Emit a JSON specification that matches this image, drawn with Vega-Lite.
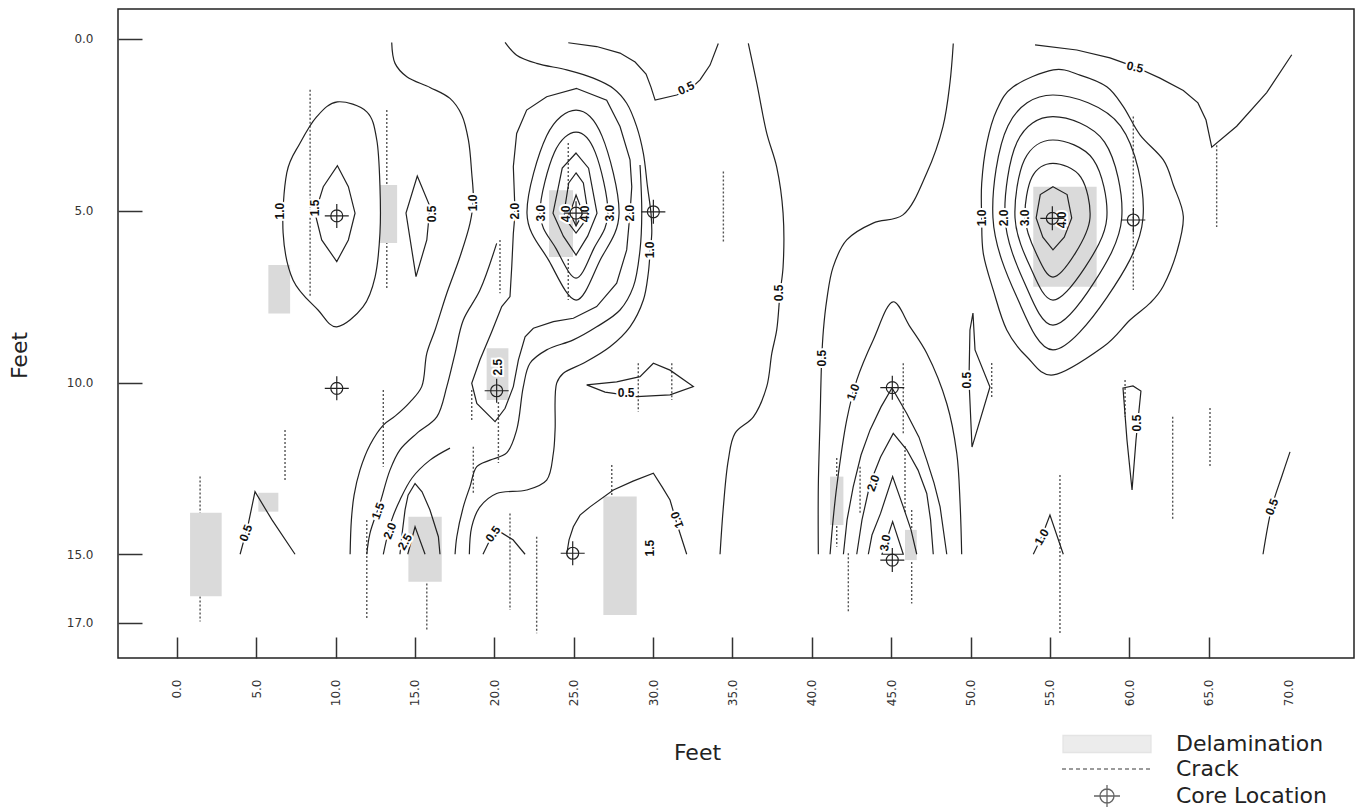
{
"$schema": "https://vega.github.io/schema/vega-lite/v6.json",
"width": 1236, "height": 649,
"autosize": {"type": "none"},
"padding": {"left": 118, "top": 9, "right": 11, "bottom": 151},
"background": "white",
"config": {"view": {"stroke": "#222", "strokeWidth": 1.5}, "axis": {"domain": false, "grid": false}},
"datasets": {
"sm": [
{"g":"p1","x":13.54,"y":0.1},{"g":"p1","x":13.75,"y":0.71},{"g":"p1","x":14.49,"y":1.10},{"g":"p1","x":15.95,"y":1.41},{"g":"p1","x":17.21,"y":1.73},{"g":"p1","x":17.95,"y":2.21},{"g":"p1","x":18.37,"y":2.94},{"g":"p1","x":18.58,"y":3.91},{"g":"p1","x":18.68,"y":4.69},{"g":"p1","x":18.47,"y":5.37},{"g":"p1","x":17.84,"y":6.34},{"g":"p1","x":17.01,"y":7.40},{"g":"p1","x":16.27,"y":8.47},{"g":"p1","x":15.75,"y":9.15},{"g":"p1","x":15.43,"y":10.12},{"g":"p1","x":14.69,"y":10.57},{"g":"p1","x":13.75,"y":10.98},{"g":"p1","x":13.01,"y":11.24},{"g":"p1","x":12.17,"y":11.82},{"g":"p1","x":11.54,"y":12.55},{"g":"p1","x":11.17,"y":13.28},{"g":"p1","x":11.00,"y":14.00},{"g":"p1","x":10.92,"y":15.0},
{"g":"p2","x":11.97,"y":15.0},{"g":"p2","x":12.17,"y":14.39},{"g":"p2","x":12.80,"y":13.52},{"g":"p2","x":13.43,"y":12.55},{"g":"p2","x":14.06,"y":11.96},{"g":"p2","x":15.12,"y":11.48},{"g":"p2","x":16.38,"y":11.00},{"g":"p2","x":17.01,"y":10.12},{"g":"p2","x":17.53,"y":9.15},{"g":"p2","x":18.05,"y":8.18},{"g":"p2","x":19.10,"y":7.31},{"g":"p2","x":20.15,"y":5.95},
{"g":"p3","x":13.01,"y":15.0},{"g":"p3","x":13.54,"y":14.00},{"g":"p3","x":14.06,"y":13.42},{"g":"p3","x":14.82,"y":12.78},{"g":"p3","x":15.95,"y":12.26},{"g":"p3","x":17.21,"y":11.91},
{"g":"q1","x":20.68,"y":0.1},{"g":"q1","x":21.41,"y":0.47},{"g":"q1","x":22.67,"y":0.71},{"g":"q1","x":24.56,"y":0.90},{"g":"q1","x":26.24,"y":1.14},{"g":"q1","x":27.50,"y":1.44},{"g":"q1","x":28.34,"y":1.87},{"g":"q1","x":28.97,"y":2.55},{"g":"q1","x":29.39,"y":3.33},{"g":"q1","x":29.65,"y":4.30},{"g":"q1","x":29.87,"y":5.07},{"g":"q1","x":29.92,"y":5.65},{"g":"q1","x":29.81,"y":6.23},{"g":"q1","x":29.70,"y":6.82},{"g":"q1","x":29.39,"y":7.60},{"g":"q1","x":28.55,"y":8.38},{"g":"q1","x":27.29,"y":8.96},{"g":"q1","x":25.61,"y":9.44},{"g":"q1","x":24.35,"y":9.73},{"g":"q1","x":23.93,"y":10.02},{"g":"q1","x":23.83,"y":11.38},{"g":"q1","x":23.72,"y":12.06},{"g":"q1","x":23.30,"y":12.84},{"g":"q1","x":22.04,"y":13.13},{"g":"q1","x":20.15,"y":13.23},{"g":"q1","x":19.10,"y":13.62},{"g":"q1","x":18.58,"y":14.20},{"g":"q1","x":18.43,"y":15.0},
{"g":"r1","x":29.18,"y":3.67},{"g":"r1","x":29.29,"y":5.07},{"g":"r1","x":29.18,"y":6.14},{"g":"r1","x":28.76,"y":7.21},{"g":"r1","x":27.92,"y":7.89},{"g":"r1","x":26.45,"y":8.38},{"g":"r1","x":24.98,"y":8.76},{"g":"r1","x":23.30,"y":9.05},{"g":"r1","x":22.25,"y":9.44},{"g":"r1","x":21.83,"y":10.12},{"g":"r1","x":21.41,"y":11.38},{"g":"r1","x":20.78,"y":12.05},{"g":"r1","x":19.73,"y":12.26},{"g":"r1","x":18.90,"y":12.45},{"g":"r1","x":18.47,"y":13.03},{"g":"r1","x":18.05,"y":13.62},{"g":"r1","x":17.64,"y":14.49},{"g":"r1","x":17.53,"y":15.0},
{"g":"a1","x":36.00,"y":0.13},{"g":"a1","x":36.53,"y":1.28},{"g":"a1","x":37.16,"y":2.74},{"g":"a1","x":37.79,"y":3.73},{"g":"a1","x":38.19,"y":5.07},{"g":"a1","x":38.19,"y":6.64},{"g":"a1","x":38.00,"y":7.39},{"g":"a1","x":37.79,"y":8.47},{"g":"a1","x":37.48,"y":9.15},{"g":"a1","x":37.16,"y":10.12},{"g":"a1","x":36.32,"y":11.00},{"g":"a1","x":35.16,"y":11.48},{"g":"a1","x":34.74,"y":12.26},{"g":"a1","x":34.43,"y":13.62},{"g":"a1","x":34.22,"y":15.0},
{"g":"b1","x":48.91,"y":0.13},{"g":"b1","x":48.70,"y":1.28},{"g":"b1","x":48.26,"y":2.55},{"g":"b1","x":47.24,"y":3.90},{"g":"b1","x":45.74,"y":5.12},{"g":"b1","x":43.86,"y":5.36},{"g":"b1","x":42.20,"y":5.85},{"g":"b1","x":41.34,"y":6.64},{"g":"b1","x":40.94,"y":7.60},{"g":"b1","x":40.73,"y":8.47},{"g":"b1","x":40.62,"y":9.34},{"g":"b1","x":40.52,"y":11.09},{"g":"b1","x":40.41,"y":13.03},{"g":"b1","x":40.41,"y":15.0},
{"g":"h1","x":41.15,"y":15.0},{"g":"h1","x":41.34,"y":14.00},{"g":"h1","x":41.57,"y":13.03},{"g":"h1","x":42.20,"y":11.09},{"g":"h1","x":42.83,"y":9.93},{"g":"h1","x":43.87,"y":8.76},{"g":"h1","x":45.13,"y":7.65},{"g":"h1","x":46.19,"y":8.38},{"g":"h1","x":47.24,"y":9.15},{"g":"h1","x":48.50,"y":10.61},{"g":"h1","x":49.13,"y":12.06},{"g":"h1","x":49.34,"y":13.52},{"g":"h1","x":49.44,"y":15.0},
{"g":"w1","x":70.12,"y":12.02},{"g":"w1","x":69.61,"y":12.72},{"g":"w1","x":68.98,"y":13.62},{"g":"w1","x":68.42,"y":15.0}
],
"sc": [
{"g":"o1","x":10.12,"y":1.83},{"g":"o1","x":11.97,"y":2.12},{"g":"o1","x":12.60,"y":2.94},{"g":"o1","x":12.80,"y":4.30},{"g":"o1","x":12.80,"y":5.65},{"g":"o1","x":12.49,"y":6.93},{"g":"o1","x":11.73,"y":7.80},{"g":"o1","x":10.08,"y":8.38},{"g":"o1","x":8.90,"y":7.89},{"g":"o1","x":7.33,"y":7.02},{"g":"o1","x":6.70,"y":5.65},{"g":"o1","x":6.93,"y":3.90},{"g":"o1","x":7.77,"y":3.03},{"g":"o1","x":8.82,"y":2.26},
{"g":"m1","x":55.21,"y":0.90},{"g":"m1","x":56.89,"y":1.05},{"g":"m1","x":58.58,"y":1.39},{"g":"m1","x":59.62,"y":1.97},{"g":"m1","x":60.67,"y":2.79},{"g":"m1","x":62.14,"y":3.52},{"g":"m1","x":62.77,"y":4.25},{"g":"m1","x":63.40,"y":5.17},{"g":"m1","x":62.98,"y":6.22},{"g":"m1","x":62.14,"y":7.19},{"g":"m1","x":61.30,"y":7.69},{"g":"m1","x":60.04,"y":8.18},{"g":"m1","x":58.36,"y":8.96},{"g":"m1","x":55.21,"y":9.78},{"g":"m1","x":53.54,"y":9.25},{"g":"m1","x":52.28,"y":8.47},{"g":"m1","x":51.43,"y":7.31},{"g":"m1","x":50.80,"y":6.24},{"g":"m1","x":50.70,"y":5.21},{"g":"m1","x":50.70,"y":4.20},{"g":"m1","x":51.02,"y":3.04},{"g":"m1","x":51.65,"y":2.07},{"g":"m1","x":52.69,"y":1.39},
{"g":"e25","x":25.15,"y":2.07},{"g":"e25","x":26.78,"y":2.82},{"g":"e25","x":27.86,"y":5.07},{"g":"e25","x":26.64,"y":6.46},{"g":"e25","x":25.15,"y":7.60},{"g":"e25","x":23.45,"y":6.46},{"g":"e25","x":22.06,"y":5.07},{"g":"e25","x":23.30,"y":2.82},
{"g":"e30","x":25.15,"y":2.71},{"g":"e30","x":26.36,"y":3.30},{"g":"e30","x":27.16,"y":5.07},{"g":"e30","x":26.26,"y":6.11},{"g":"e30","x":25.15,"y":6.96},{"g":"e30","x":23.90,"y":6.11},{"g":"e30","x":22.88,"y":5.07},{"g":"e30","x":23.79,"y":3.30},
{"g":"f15","x":55.19,"y":1.63},{"g":"f15","x":59.44,"y":2.53},{"g":"f15","x":60.86,"y":5.21},{"g":"f15","x":58.59,"y":7.52},{"g":"f15","x":55.19,"y":9.05},{"g":"f15","x":52.92,"y":7.52},{"g":"f15","x":51.41,"y":5.21},{"g":"f15","x":52.35,"y":2.53},
{"g":"f20","x":55.19,"y":2.26},{"g":"f20","x":58.44,"y":3.00},{"g":"f20","x":59.52,"y":5.21},{"g":"f20","x":57.79,"y":7.08},{"g":"f20","x":55.19,"y":8.33},{"g":"f20","x":53.38,"y":7.08},{"g":"f20","x":52.17,"y":5.21},{"g":"f20","x":52.93,"y":3.00},
{"g":"f25","x":55.19,"y":2.94},{"g":"f25","x":57.73,"y":3.51},{"g":"f25","x":58.58,"y":5.21},{"g":"f25","x":57.22,"y":6.64},{"g":"f25","x":55.19,"y":7.60},{"g":"f25","x":53.76,"y":6.64},{"g":"f25","x":52.80,"y":5.21},{"g":"f25","x":53.40,"y":3.51},
{"g":"f30","x":55.19,"y":3.62},{"g":"f30","x":56.94,"y":4.02},{"g":"f30","x":57.52,"y":5.21},{"g":"f30","x":56.59,"y":6.24},{"g":"f30","x":55.19,"y":6.93},{"g":"f30","x":54.13,"y":6.24},{"g":"f30","x":53.43,"y":5.21},{"g":"f30","x":53.87,"y":4.02}
],
"ln": [
{"g":"v1","x":3.99,"y":15.0},{"g":"v1","x":4.49,"y":14.15},{"g":"v1","x":4.93,"y":13.18},{"g":"v1","x":6.00,"y":14.00},{"g":"v1","x":7.45,"y":15.0},
{"g":"u1","x":24.66,"y":0.11},{"g":"u1","x":26.45,"y":0.22},{"g":"u1","x":27.92,"y":0.41},{"g":"u1","x":28.87,"y":0.67},{"g":"u1","x":29.56,"y":1.02},{"g":"u1","x":29.87,"y":1.40},{"g":"u1","x":30.13,"y":1.78},{"g":"u1","x":31.49,"y":1.63},{"g":"u1","x":32.33,"y":1.46},{"g":"u1","x":32.96,"y":1.19},{"g":"u1","x":33.59,"y":0.76},{"g":"u1","x":34.11,"y":0.13},
{"g":"c1","x":54.06,"y":0.17},{"g":"c1","x":56.69,"y":0.32},{"g":"c1","x":58.78,"y":0.55},{"g":"c1","x":60.36,"y":0.81},{"g":"c1","x":61.93,"y":1.14},{"g":"c1","x":63.40,"y":1.50},{"g":"c1","x":64.32,"y":1.86},{"g":"c1","x":64.83,"y":2.36},{"g":"c1","x":65.19,"y":3.15},{"g":"c1","x":66.76,"y":2.54},{"g":"c1","x":68.65,"y":1.56},{"g":"c1","x":70.23,"y":0.46},
{"g":"h2","x":41.99,"y":15.0},{"g":"h2","x":42.22,"y":14.00},{"g":"h2","x":42.61,"y":13.03},{"g":"h2","x":43.10,"y":12.11},{"g":"h2","x":43.67,"y":11.38},{"g":"h2","x":44.36,"y":10.71},{"g":"h2","x":45.05,"y":10.16},{"g":"h2","x":45.98,"y":10.90},{"g":"h2","x":46.75,"y":11.59},{"g":"h2","x":47.24,"y":12.26},{"g":"h2","x":47.70,"y":12.93},{"g":"h2","x":48.08,"y":13.62},{"g":"h2","x":48.50,"y":15.0},
{"g":"h3","x":42.83,"y":15.0},{"g":"h3","x":43.16,"y":14.00},{"g":"h3","x":43.67,"y":12.94},{"g":"h3","x":44.33,"y":12.17},{"g":"h3","x":45.13,"y":11.48},{"g":"h3","x":45.98,"y":11.96},{"g":"h3","x":46.69,"y":12.55},{"g":"h3","x":47.24,"y":13.23},{"g":"h3","x":47.48,"y":14.00},{"g":"h3","x":47.65,"y":15.0},
{"g":"h4","x":43.56,"y":15.0},{"g":"h4","x":43.79,"y":14.44},{"g":"h4","x":44.33,"y":13.81},{"g":"h4","x":45.09,"y":12.74},{"g":"h4","x":45.76,"y":13.62},{"g":"h4","x":46.25,"y":14.29},{"g":"h4","x":46.61,"y":15.0},
{"g":"v2","x":53.95,"y":15.0},{"g":"v2","x":54.48,"y":14.49},{"g":"v2","x":55.00,"y":13.86},{"g":"v2","x":55.84,"y":15.0},
{"g":"k1","x":24.56,"y":15.0},{"g":"k1","x":24.71,"y":14.58},{"g":"k1","x":24.98,"y":14.20},{"g":"k1","x":25.40,"y":13.86},{"g":"k1","x":26.03,"y":13.62},{"g":"k1","x":27.50,"y":13.13},{"g":"k1","x":28.74,"y":12.87},{"g":"k1","x":30.02,"y":12.64},{"g":"k1","x":30.57,"y":13.04},{"g":"k1","x":31.07,"y":13.42},{"g":"k1","x":31.49,"y":14.09},{"g":"k1","x":32.12,"y":15.0},
{"g":"k2","x":19.29,"y":15.0},{"g":"k2","x":19.73,"y":14.58},{"g":"k2","x":20.17,"y":14.29},{"g":"k2","x":21.18,"y":14.58},{"g":"k2","x":21.94,"y":15.0},
{"g":"k3","x":14.06,"y":15.0},{"g":"k3","x":14.17,"y":14.49},{"g":"k3","x":14.38,"y":13.71},{"g":"k3","x":14.57,"y":13.28},{"g":"k3","x":15.01,"y":12.94},{"g":"k3","x":15.45,"y":13.18},{"g":"k3","x":15.95,"y":13.71},{"g":"k3","x":16.48,"y":14.49},{"g":"k3","x":16.58,"y":15.0},
{"g":"k4","x":14.55,"y":15.0},{"g":"k4","x":15.01,"y":14.20},{"g":"k4","x":15.64,"y":15.0}
],
"lc": [
{"g":"d1","x":10.12,"y":3.69},{"g":"d1","x":10.81,"y":4.30},{"g":"d1","x":11.23,"y":5.07},{"g":"d1","x":10.81,"y":5.85},{"g":"d1","x":10.08,"y":6.48},{"g":"d1","x":9.13,"y":5.85},{"g":"d1","x":8.71,"y":5.07},{"g":"d1","x":9.23,"y":4.30},
{"g":"d2","x":15.15,"y":3.99},{"g":"d2","x":15.95,"y":4.88},{"g":"d2","x":15.75,"y":5.85},{"g":"d2","x":15.07,"y":6.92},{"g":"d2","x":14.44,"y":5.07},
{"g":"q2","x":25.19,"y":1.44},{"g":"q2","x":27.08,"y":1.78},{"g":"q2","x":27.92,"y":2.55},{"g":"q2","x":28.55,"y":3.52},{"g":"q2","x":28.66,"y":4.30},{"g":"q2","x":28.55,"y":5.07},{"g":"q2","x":28.34,"y":6.14},{"g":"q2","x":27.71,"y":7.11},{"g":"q2","x":26.45,"y":7.79},{"g":"q2","x":24.98,"y":8.13},{"g":"q2","x":23.72,"y":8.23},{"g":"q2","x":22.46,"y":8.42},{"g":"q2","x":21.94,"y":8.67},{"g":"q2","x":21.52,"y":9.34},{"g":"q2","x":21.20,"y":10.12},{"g":"q2","x":20.68,"y":10.75},{"g":"q2","x":20.05,"y":11.14},{"g":"q2","x":18.90,"y":10.61},{"g":"q2","x":18.58,"y":10.02},{"g":"q2","x":19.10,"y":9.34},{"g":"q2","x":19.84,"y":8.52},{"g":"q2","x":20.47,"y":7.79},{"g":"q2","x":20.99,"y":7.50},{"g":"q2","x":21.10,"y":6.63},{"g":"q2","x":21.20,"y":5.66},{"g":"q2","x":21.31,"y":5.07},{"g":"q2","x":21.20,"y":3.72},{"g":"q2","x":21.41,"y":2.75},{"g":"q2","x":22.04,"y":2.07},{"g":"q2","x":23.30,"y":1.68},
{"g":"e35","x":25.15,"y":3.32},{"g":"e35","x":25.94,"y":3.76},{"g":"e35","x":26.47,"y":5.07},{"g":"e35","x":25.88,"y":5.74},{"g":"e35","x":25.15,"y":6.29},{"g":"e35","x":24.35,"y":5.74},{"g":"e35","x":23.70,"y":5.07},{"g":"e35","x":24.28,"y":3.76},
{"g":"e40","x":25.15,"y":3.90},{"g":"e40","x":25.61,"y":4.19},{"g":"e40","x":25.91,"y":5.07},{"g":"e40","x":25.57,"y":5.39},{"g":"e40","x":25.15,"y":5.65},{"g":"e40","x":24.73,"y":5.39},{"g":"e40","x":24.39,"y":5.07},{"g":"e40","x":24.69,"y":4.19},
{"g":"e45","x":25.15,"y":4.54},{"g":"e45","x":25.59,"y":5.07},{"g":"e45","x":25.15,"y":5.44},{"g":"e45","x":24.77,"y":5.07},
{"g":"f35","x":55.19,"y":4.30},{"g":"f35","x":56.08,"y":4.53},{"g":"f35","x":56.37,"y":5.21},{"g":"f35","x":55.90,"y":5.77},{"g":"f35","x":55.19,"y":6.14},{"g":"f35","x":54.55,"y":5.77},{"g":"f35","x":54.13,"y":5.21},{"g":"f35","x":54.39,"y":4.53},
{"g":"s1","x":25.82,"y":10.07},{"g":"s1","x":27.71,"y":9.98},{"g":"s1","x":29.18,"y":9.83},{"g":"s1","x":30.02,"y":9.44},{"g":"s1","x":31.07,"y":9.64},{"g":"s1","x":32.54,"y":10.12},{"g":"s1","x":31.07,"y":10.36},{"g":"s1","x":28.97,"y":10.41},{"g":"s1","x":26.98,"y":10.28},
{"g":"s2","x":50.15,"y":7.98},{"g":"s2","x":50.28,"y":9.05},{"g":"s2","x":51.22,"y":10.13},{"g":"s2","x":50.09,"y":11.88},{"g":"s2","x":49.90,"y":9.93},{"g":"s2","x":49.96,"y":8.47},
{"g":"s3","x":59.60,"y":10.16},{"g":"s3","x":60.23,"y":10.10},{"g":"s3","x":60.73,"y":10.25},{"g":"s3","x":60.42,"y":11.67},{"g":"s3","x":60.17,"y":13.13},{"g":"s3","x":59.85,"y":11.67},
{"g":"h5","x":45.09,"y":14.05},{"g":"h5","x":45.76,"y":15.0},{"g":"h5","x":44.42,"y":15.0}
],
"cracks": [
{"x":8.40,"y":1.48,"y2":7.50},{"x":13.23,"y":2.07,"y2":7.31},{"x":1.47,"y":12.74,"y2":16.96},{"x":6.82,"y":11.38,"y2":12.84},{"x":13.01,"y":10.22,"y2":12.45},{"x":11.97,"y":14.00,"y2":16.86},{"x":24.66,"y":3.03,"y2":7.60},{"x":34.43,"y":3.86,"y2":5.95},{"x":20.36,"y":5.85,"y2":7.40},{"x":18.68,"y":11.87,"y2":13.27},{"x":18.58,"y":10.22,"y2":11.09},{"x":20.26,"y":10.22,"y2":12.34},{"x":20.99,"y":13.81,"y2":16.62},{"x":22.67,"y":14.49,"y2":17.30},{"x":15.75,"y":15.85,"y2":17.21},{"x":27.40,"y":12.40,"y2":16.77},{"x":29.07,"y":9.44,"y2":10.85},{"x":31.18,"y":9.44,"y2":10.51},{"x":60.25,"y":2.26,"y2":7.31},{"x":45.76,"y":9.44,"y2":11.48},{"x":45.87,"y":11.85,"y2":13.80},{"x":46.29,"y":13.71,"y2":16.43},{"x":43.04,"y":12.45,"y2":13.81},{"x":41.57,"y":12.20,"y2":14.78},{"x":42.30,"y":14.97,"y2":16.72},{"x":51.33,"y":9.43,"y2":10.42},{"x":55.63,"y":12.69,"y2":17.30},{"x":59.73,"y":9.93,"y2":11.00},{"x":62.73,"y":11.00,"y2":14.00},{"x":65.08,"y":10.74,"y2":12.46},{"x":65.50,"y":3.09,"y2":5.47}
],
"delam": [
{"x":5.77,"x2":7.14,"y":6.58,"y2":7.99},{"x":12.80,"x2":13.88,"y":4.25,"y2":5.94},{"x":0.84,"x2":2.83,"y":13.79,"y2":16.22},{"x":5.14,"x2":6.40,"y":13.21,"y2":13.76},{"x":14.59,"x2":16.69,"y":13.91,"y2":15.80},{"x":26.87,"x2":28.97,"y":13.32,"y2":16.77},{"x":19.52,"x2":20.89,"y":9.00,"y2":10.51},{"x":23.45,"x2":24.96,"y":4.40,"y2":6.35},{"x":53.95,"x2":57.94,"y":4.30,"y2":7.21},{"x":41.15,"x2":41.99,"y":12.74,"y2":14.15},{"x":45.87,"x2":46.61,"y":14.29,"y2":15.17}
],
"labels": [
{"t":"1.0","x":6.51,"y":5.01,"a":270},{"t":"1.5","x":8.71,"y":4.92,"a":270},{"t":"0.5","x":16.08,"y":5.09,"a":270},{"t":"1.0","x":18.66,"y":4.77,"a":270},{"t":"2.0","x":21.31,"y":5.01,"a":270},{"t":"3.0","x":22.95,"y":5.07,"a":270},{"t":"4.0","x":24.52,"y":5.09,"a":270},{"t":"4.0","x":25.72,"y":5.09,"a":270},{"t":"3.0","x":27.29,"y":5.07,"a":270},{"t":"2.0","x":28.55,"y":5.07,"a":270},{"t":"1.0","x":29.81,"y":6.14,"a":270},{"t":"0.5","x":32.08,"y":1.43,"a":335},{"t":"0.5","x":37.94,"y":7.39,"a":270},{"t":"0.5","x":40.64,"y":9.29,"a":270},{"t":"2.5","x":20.24,"y":9.55,"a":270},{"t":"0.5","x":28.30,"y":10.31,"a":0},{"t":"0.5","x":4.36,"y":14.38,"a":290},{"t":"1.5","x":12.68,"y":13.74,"a":290},{"t":"2.0","x":13.43,"y":14.32,"a":290},{"t":"2.5","x":14.38,"y":14.64,"a":300},{"t":"0.5","x":19.92,"y":14.41,"a":305},{"t":"1.5","x":29.81,"y":14.82,"a":270},{"t":"1.0","x":31.51,"y":14.00,"a":250},{"t":"0.5","x":60.36,"y":0.82,"a":12},{"t":"1.0","x":50.72,"y":5.21,"a":270},{"t":"2.0","x":52.11,"y":5.21,"a":270},{"t":"3.0","x":53.43,"y":5.21,"a":270},{"t":"4.0","x":55.76,"y":5.27,"a":270},{"t":"1.0","x":42.60,"y":10.28,"a":290},{"t":"2.0","x":43.87,"y":12.93,"a":290},{"t":"3.0","x":44.62,"y":14.67,"a":280},{"t":"0.5","x":49.77,"y":9.93,"a":270},{"t":"0.5","x":60.48,"y":11.18,"a":270},{"t":"1.0","x":54.48,"y":14.50,"a":300},{"t":"0.5","x":68.98,"y":13.62,"a":290}
],
"cores": [
{"x":10.08,"y":5.15},{"x":10.08,"y":10.17},{"x":25.15,"y":5.07},{"x":30.02,"y":5.03},{"x":20.15,"y":10.24},{"x":24.94,"y":14.97},{"x":55.15,"y":5.22},{"x":60.25,"y":5.27},{"x":45.07,"y":10.15},{"x":45.07,"y":15.17}
],
"kinds": [{"kind":"Delamination"},{"kind":"Crack"},{"kind":"Core Location"}]
},
"encoding": {
"x": {"field": "x", "type": "quantitative", "scale": {"domain": [-3.7, 74.15], "nice": false, "zero": false},
 "axis": {"values": [0,5,10,15,20,25,30,35,40,45,50,55,60,65,70], "format": ".1f", "labelAngle": -90, "labelAlign": "right", "labelBaseline": "middle", "labelPadding": 42, "tickSize": -21, "tickWidth": 1.5, "tickColor": "#333", "tickOpacity": {"condition": {"test": "datum.value >= 70", "value": 0}, "value": 1}, "labelFont": "DejaVu Sans", "labelFontSize": 12, "labelColor": "#333", "labelFlush": false, "labelOverlap": false, "title": "Feet", "titleFont": "DejaVu Sans", "titleFontSize": 22, "titleFontWeight": "normal", "titleColor": "#222", "titleX": 579, "titleY": 94, "titleAlign": "center", "titleBaseline": "middle"}},
"y": {"field": "y", "type": "quantitative", "scale": {"domain": [-0.873, 18.02], "reverse": true, "nice": false, "zero": false},
 "axis": {"values": [0,5,10,15,17], "format": ".1f", "tickSize": -24, "tickWidth": 1.5, "tickColor": "#333", "labelPadding": 49, "labelFont": "DejaVu Sans", "labelFontSize": 12, "labelColor": "#333", "labelFlush": false, "labelOverlap": false, "title": "Feet", "titleFont": "DejaVu Sans", "titleFontSize": 22, "titleFontWeight": "normal", "titleColor": "#222", "titleX": -99, "titleY": 346, "titleAngle": -90, "titleAlign": "center", "titleBaseline": "middle"}}
},
"layer": [
{"data": {"name": "cracks"}, "mark": {"type": "rule", "strokeDash": [2, 2], "strokeWidth": 1.4, "color": "#555"}, "encoding": {"y2": {"field": "y2"}}},
{"data": {"name": "delam"}, "mark": {"type": "rect", "fill": "#dadada"}, "encoding": {"x2": {"field": "x2"}, "y2": {"field": "y2"}}},
{"data": {"name": "sm"}, "mark": {"type": "line", "interpolate": "catmull-rom", "color": "#222", "strokeWidth": 1.2}, "encoding": {"detail": {"field": "g"}, "order": {"value": null}}},
{"data": {"name": "sc"}, "mark": {"type": "line", "interpolate": "cardinal-closed", "color": "#222", "strokeWidth": 1.2}, "encoding": {"detail": {"field": "g"}, "order": {"value": null}}},
{"data": {"name": "ln"}, "mark": {"type": "line", "interpolate": "linear", "color": "#222", "strokeWidth": 1.2}, "encoding": {"detail": {"field": "g"}, "order": {"value": null}}},
{"data": {"name": "lc"}, "mark": {"type": "line", "interpolate": "linear-closed", "color": "#222", "strokeWidth": 1.2}, "encoding": {"detail": {"field": "g"}, "order": {"value": null}}},
{"data": {"name": "labels"}, "mark": {"type": "text", "font": "Liberation Sans", "fontSize": 12, "fontWeight": "bold", "fill": "white", "stroke": "white", "strokeWidth": 4, "align": "center", "baseline": "middle"}, "encoding": {"text": {"field": "t"}, "angle": {"field": "a", "type": "quantitative", "scale": null}}},
{"data": {"name": "labels"}, "mark": {"type": "text", "font": "Liberation Sans", "fontSize": 12, "fontWeight": "bold", "fill": "#111", "align": "center", "baseline": "middle"}, "encoding": {"text": {"field": "t"}, "angle": {"field": "a", "type": "quantitative", "scale": null}}},
{"data": {"name": "cores"}, "mark": {"type": "point", "shape": "M-1,0H1M0,-1V1M0.5,0A0.5,0.5 0 1,1 -0.5,0A0.5,0.5 0 1,1 0.5,0", "size": 576, "filled": false, "stroke": "#222", "strokeWidth": 1.2, "opacity": 1}},
{"data": {"name": "kinds"}, "transform": [{"filter": "false"}], "mark": {"type": "point"},
 "encoding": {
  "shape": {"field": "kind", "type": "nominal", "scale": {"domain": ["Delamination", "Crack", "Core Location"], "range": ["M-4.4,-0.85H4.4V0.85H-4.4Z", "M-4.5,0H-4.1M-3.8,0H-3.4M-3.1,0H-2.7M-2.4,0H-2M-1.7,0H-1.3M-1,0H-0.6M-0.3,0H0.1M0.4,0H0.8M1.1,0H1.5M1.8,0H2.2M2.5,0H2.9M3.2,0H3.6M3.9,0H4.3", "M-1.3,0H1.3M0,-1.1V1.1M0.7,0A0.7,0.7 0 1,1 -0.7,0A0.7,0.7 0 1,1 0.7,0"]},
   "legend": {"orient": "none", "legendX": 978, "legendY": 724, "title": null, "symbolSize": 400, "symbolStrokeWidth": 1.3, "labelFont": "DejaVu Sans", "labelFontSize": 22, "labelColor": "#222", "labelOffset": 58, "labelLimit": 400, "rowPadding": 2, "padding": 0}},
  "fill": {"field": "kind", "type": "nominal", "scale": {"domain": ["Delamination", "Crack", "Core Location"], "range": ["#dadada", "transparent", "transparent"]}},
  "stroke": {"field": "kind", "type": "nominal", "scale": {"domain": ["Delamination", "Crack", "Core Location"], "range": ["#dadada", "#444", "#222"]}}
 }}
]
}
